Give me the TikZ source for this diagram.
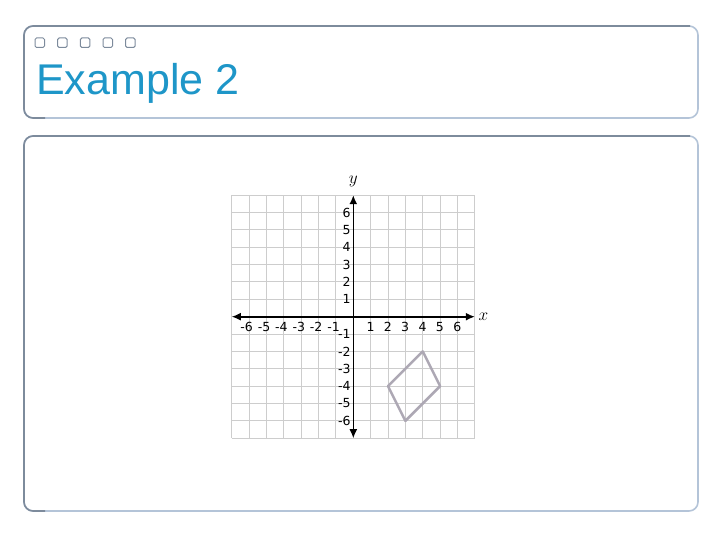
\documentclass[tikz,border=0pt]{standalone}
\usepackage{fontspec}
\setmainfont{Liberation Sans}
\newfontfamily\numfont{DejaVu Sans}
\usetikzlibrary{arrows.meta}
\definecolor{titleBlue}{HTML}{1E96C8}
\definecolor{frameDark}{HTML}{7D8B9C}
\definecolor{frameLight}{HTML}{B4C4D8}
\definecolor{gridGray}{HTML}{CDCDCD}
\definecolor{shapeGray}{HTML}{ADA8B4}

\tikzset{
 panel/.style={frameLight, line width=1.6pt, rounded corners=9pt},
 paneledge/.style={frameDark, line width=1.6pt, rounded corners=9pt},
 dot/.style={frameDark, line width=1pt, rounded corners=1.5pt},
 axis/.style={line width=1.6pt, {Latex[length=9pt,width=8pt]}-{Latex[length=9pt,width=8pt]}},
 xnum/.style={font=\numfont\fontsize{12.5}{13}\selectfont, anchor=east, inner sep=0pt, xshift=4pt},
 ynum/.style={font=\numfont\fontsize{12.5}{13}\selectfont, anchor=east, inner sep=0pt, xshift=-2.5pt}
}

\begin{document}
\begin{tikzpicture}[x=1pt,y=-1pt]
 \useasboundingbox (0,0) rectangle (720,540);
 % Title panel
 \draw[panel] (24,26) rectangle (698,118);
 \draw[paneledge] (45,118) -- (24,118) -- (24,26) -- (690,26);
 \draw[dot] (35,38) rectangle ++(9.5,9.5);
 \draw[dot] (57.7,38) rectangle ++(9.5,9.5);
 \draw[dot] (80.3,38) rectangle ++(9.5,9.5);
 \draw[dot] (103,38) rectangle ++(9.5,9.5);
 \draw[dot] (125.7,38) rectangle ++(9.5,9.5);
 \node[anchor=base west, inner sep=0pt, text=titleBlue, font=\fontsize{43}{43}\selectfont] (title) at (36,95) {Example 2};
 % Body panel
 \draw[panel] (24,136) rectangle (698,511);
 \draw[paneledge] (45,511) -- (24,511) -- (24,136) -- (690,136);
 % Coordinate plane
 \begin{scope}[shift={(353.3,316.7)}, x=17.36pt, y=17.36pt]
  \draw[gridGray, line width=1pt, step=1] (-7,-7) grid (7,7);
  \coordinate (xl) at (-7,0);
  \coordinate (xr) at (7,0);
  \coordinate (yb) at (0,-7);
  \coordinate (yt) at (0,7);
  \draw[axis] (xl) -- (xr);
  \draw[axis] (yb) -- (yt);
  \node[font=\fontsize{19}{19}\selectfont] (xlab) at (7.5,0) {$x$};
  \node[font=\fontsize{19}{19}\selectfont] (ylab) at (0,7.8) {$y$};
  % x numbers
  \node[xnum] (xm6) at (-6,-0.58) {-6};
  \node[xnum] (xm5) at (-5,-0.58) {-5};
  \node[xnum] (xm4) at (-4,-0.58) {-4};
  \node[xnum] (xm3) at (-3,-0.58) {-3};
  \node[xnum] (xm2) at (-2,-0.58) {-2};
  \node[xnum] (xm1) at (-1,-0.58) {-1};
  \node[xnum] (xp1) at (1,-0.58) {1};
  \node[xnum] (xp2) at (2,-0.58) {2};
  \node[xnum] (xp3) at (3,-0.58) {3};
  \node[xnum] (xp4) at (4,-0.58) {4};
  \node[xnum] (xp5) at (5,-0.58) {5};
  \node[xnum] (xp6) at (6,-0.58) {6};
  % y numbers
  \node[ynum] (yp6) at (0,6) {6};
  \node[ynum] (yp5) at (0,5) {5};
  \node[ynum] (yp4) at (0,4) {4};
  \node[ynum] (yp3) at (0,3) {3};
  \node[ynum] (yp2) at (0,2) {2};
  \node[ynum] (yp1) at (0,1) {1};
  \node[ynum] (ym1) at (0,-1) {-1};
  \node[ynum] (ym2) at (0,-2) {-2};
  \node[ynum] (ym3) at (0,-3) {-3};
  \node[ynum] (ym4) at (0,-4) {-4};
  \node[ynum] (ym5) at (0,-5) {-5};
  \node[ynum] (ym6) at (0,-6) {-6};
  % Parallelogram
  \draw[shapeGray, line width=2.5pt, line join=round] (4,-2) -- (5,-4) -- (3,-6) -- (2,-4) -- cycle;
 \end{scope}
\end{tikzpicture}
\end{document}
